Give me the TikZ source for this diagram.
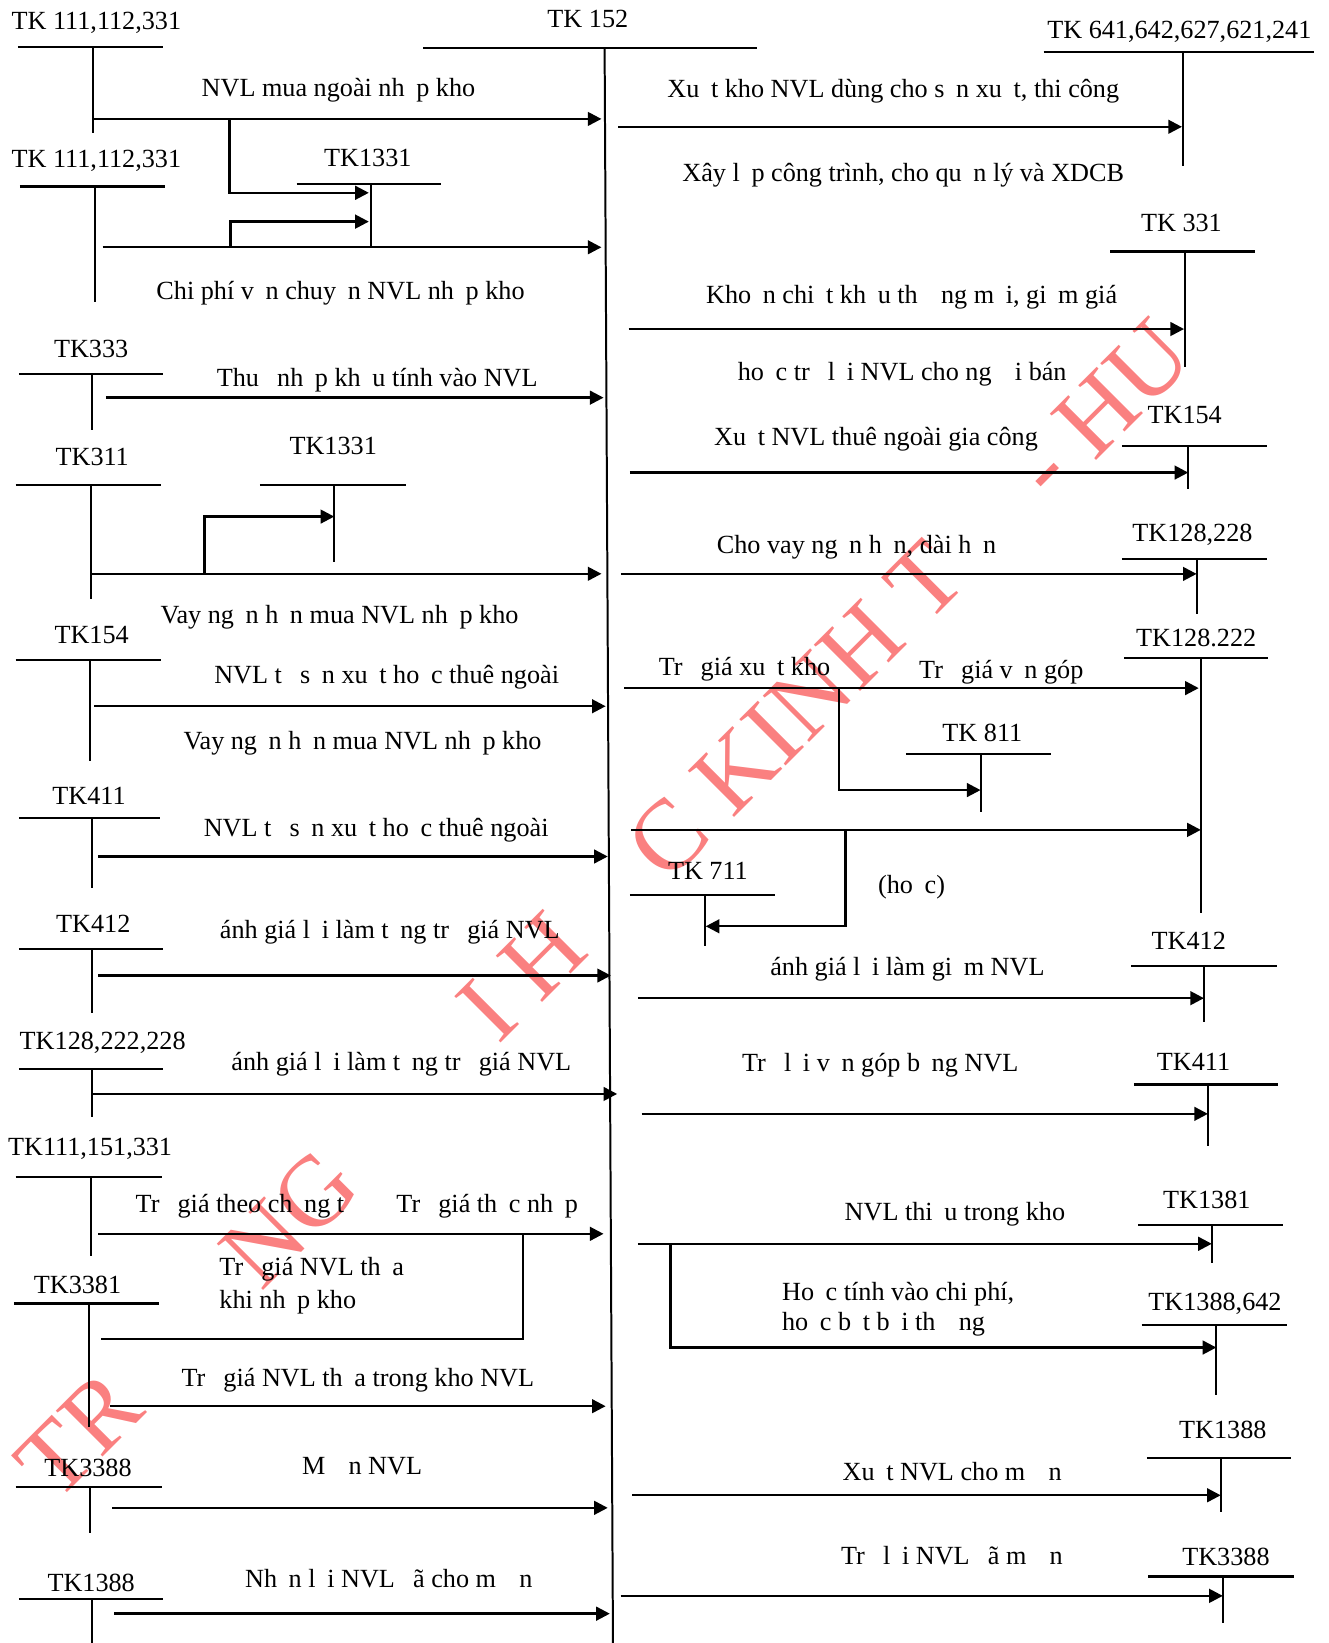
\documentclass[tikz,border=0pt]{standalone}
\usepackage{fontspec}
\setmainfont{Liberation Serif}
\usetikzlibrary{arrows.meta}
\definecolor{wmred}{RGB}{250,128,128}
\newcommand\lbfont{\fontsize{12.5pt}{15pt}\selectfont}
\newcommand\wmfont{\fontsize{47.7pt}{50pt}\selectfont}
% blank space left by a glyph the font could not print
\newcommand\vgp{\hphantom{a}}
\tikzset{
  lb/.style={font=\lbfont, inner sep=0pt, anchor=base, yshift=-4.15pt},
  lbl/.style={lb, anchor=base west},
  wm/.style={font=\wmfont, text=wmred, inner sep=0pt, rotate=45},
  hline/.style={line width=1pt},
  stem/.style={line width=0.95pt},
  arr/.style={line width=1.15pt, -{Triangle[length=6.5pt,width=6.5pt]}},
  conn/.style={line width=1.15pt},
}
% T-account: name, title, title x, title y, bar left, bar right, bar y, stem x, stem bottom
\newcommand\taccount[9]{%
  \node[lb] (#1) at (#3,#4) {#2};
  \coordinate (#1-l) at (#5,#7);
  \coordinate (#1-r) at (#6,#7);
  \coordinate (#1-t) at (#8,#7);
  \coordinate (#1-b) at (#8,#9);
  \draw[hline] (#1-l) -- (#1-r);
  \draw[stem] (#1-t) -- (#1-b);}
% horizontal posting arrow: name, y, x start, x end
\newcommand\flow[4]{%
  \coordinate (#1-s) at (#3,#2);
  \coordinate (#1-e) at (#4,#2);
  \draw[arr] (#1-s) -- (#1-e);}
% elbow connector: name, x0, y0, x1, y1, style
\newcommand\branch[6]{%
  \coordinate (#1-s) at (#2,#3);
  \coordinate (#1-e) at (#4,#5);
  \draw[#6] (#1-s) |- (#1-e);}
\begin{document}
\begin{tikzpicture}[x=0.5pt,y=-0.5pt]
\useasboundingbox (0,0) rectangle (1267.4,1568);

% watermark
\node[wm] (w1) at (75.4,1369.3) {TR};
\node[wm] (w2) at (276.7,1163.2) {NG};
\node[wm] (w3) at (498,932) {I H};
\node[wm] (w4) at (759.5,677.5) {C KINH T};
\node[wm] (w5) at (1051.5,390.3) {- HU};

% central account TK 152
\node[lb] (k152) at (561,18) {TK 152};
\coordinate (k152-l) at (404,45.5);
\coordinate (k152-r) at (722,45.5);
\coordinate (k152-t) at (577,45.5);
\coordinate (k152-b) at (585,1570);
\draw[hline] (k152-l) -- (k152-r);
\draw[stem] (k152-t) -- (k152-b);

% debit side accounts
\taccount{a1}{TK 111,112,331}{92}{20}{17}{156}{45}{89}{127}
\taccount{a2}{TK 111,112,331}{92}{152}{19}{157}{178}{90.5}{288}
\taccount{v1}{TK1331}{351}{151}{283}{421}{176}{354}{236}
\taccount{a3}{TK333}{87}{333}{18}{156}{357}{88}{410}
\taccount{a4}{TK311}{88}{436}{15}{154}{463}{87}{571.5}
\taccount{v2}{TK1331}{318}{425}{248}{387}{463}{319}{536}
\taccount{a5}{TK154}{87.5}{606}{15}{154}{630}{86}{726}
\taccount{a6}{TK411}{85}{759.5}{18}{153}{780.5}{88}{847}
\taccount{a7}{TK412}{89}{882}{18}{156}{905.5}{88}{967}
\taccount{a8}{TK128,222,228}{98}{993}{18}{156}{1020}{88}{1066}
\taccount{a9}{TK111,151,331}{86}{1094}{15}{154.5}{1123}{87}{1198.5}
\taccount{a10}{TK3381}{74}{1226}{13.3}{151.5}{1244}{85}{1361.5}
\taccount{a11}{TK3388}{84}{1401}{15}{154.5}{1419}{86}{1463}
\taccount{a12}{TK1388}{87}{1511}{18}{156}{1526}{88}{1570}

% credit side accounts
\taccount{b1}{TK 641,642,627,621,241}{1125.5}{28}{996}{1253.6}{50}{1129}{158.4}
\taccount{b2}{TK 331}{1127.5}{213}{1059.7}{1198}{240}{1130.6}{350}
\taccount{b3}{TK154}{1130.6}{396}{1070.6}{1209}{426}{1134}{467}
\taccount{b4}{TK128,228}{1138}{508.7}{1070.6}{1209}{533.4}{1142}{586}
\taccount{b5}{TK128.222}{1141.6}{609}{1073}{1210}{628}{1146}{871}
\taccount{c1}{TK 811}{937.5}{699}{864.5}{1003}{720}{935.8}{774.5}
\taccount{c2}{TK 711}{675.6}{831}{601}{740}{854}{672.6}{903}
\taccount{b6}{TK412}{1134.5}{898}{1079.7}{1218.5}{922}{1149}{975}
\taccount{b7}{TK411}{1139}{1013.5}{1082}{1220}{1035}{1152.8}{1093.5}
\taccount{b8}{TK1381}{1151.7}{1145}{1086.3}{1224.6}{1169}{1157}{1205}
\taccount{b9}{TK1388,642}{1159.5}{1242}{1089.6}{1228}{1264.5}{1160.8}{1331}
\taccount{b10}{TK1388}{1167}{1364.5}{1094.4}{1232.5}{1391}{1165}{1443}
\taccount{b11}{TK3388}{1170}{1485.4}{1096}{1234.7}{1504.5}{1167}{1548.6}

% postings into TK 152
\flow{f1}{113.5}{89}{574}
\flow{f2}{236}{98}{574}
\flow{f3}{379.5}{101}{576}
\flow{f4}{547.6}{87}{574}
\flow{f5}{674}{90}{578}
\flow{f6}{817.4}{94}{580}
\flow{f7}{931}{94}{583}
\flow{f8}{1044}{88}{589}
\flow{f9}{1177.5}{94}{576}
\flow{f10}{1342}{105}{578}
\flow{f11}{1439}{107}{580}
\flow{f12}{1540}{109}{582}
\branch{g1}{219}{113.5}{352}{184}{arr}
\branch{g2}{220}{236}{352}{211.5}{arr}
\branch{g4}{195}{547.6}{319}{493}{arr}
\branch{g9}{499}{1177.5}{96}{1278}{conn}

% postings out of TK 152
\flow{h1}{121}{590}{1128}
\flow{h2}{314}{600}{1130}
\flow{h3}{451}{601}{1134}
\flow{h4}{547.7}{592.5}{1142}
\flow{h5}{656.7}{595.6}{1144}
\flow{h5b}{792}{602}{1146}
\branch{k1}{800.6}{656.7}{935.8}{754}{arr}
\branch{k2}{807}{792}{673.5}{884}{arr}
\flow{h6}{952.6}{608.8}{1149}
\flow{h7}{1063}{612.4}{1152.8}
\flow{h8}{1187}{608.8}{1156.5}
\branch{k3}{640}{1187}{1160.8}{1286}{arr}
\flow{h10}{1427}{603.5}{1165}
\flow{h11}{1523}{592.4}{1167}

% labels, debit side
\node[lb] (t1) at (323,84) {NVL mua ngoài nh\vgp p kho};
\node[lb] (t2) at (325,278) {Chi phí v\vgp n chuy\vgp n NVL nh\vgp p kho};
\node[lb] (t3) at (360,361) {Thu\vgp\ nh\vgp p kh\vgp u tính vào NVL};
\node[lb] (t4) at (324,587) {Vay ng\vgp n h\vgp n mua NVL nh\vgp p kho};
\node[lb] (t5) at (369,644) {NVL t\vgp\ s\vgp n xu\vgp t ho\vgp c thuê ngoài};
\node[lb] (t5b) at (346,707) {Vay ng\vgp n h\vgp n mua NVL nh\vgp p kho};
\node[lb] (t6) at (359,790) {NVL t\vgp\ s\vgp n xu\vgp t ho\vgp c thuê ngoài};
\node[lb] (t7) at (372,887) {ánh giá l\vgp i làm t\vgp ng tr\vgp\ giá NVL};
\node[lb] (t8) at (383,1013) {ánh giá l\vgp i làm t\vgp ng tr\vgp\ giá NVL};
\node[lb] (t9a) at (229,1149) {Tr\vgp\ giá theo ch\vgp ng t};
\node[lb] (t9b) at (465,1149) {Tr\vgp\ giá th\vgp c nh\vgp p};
\node[lbl] (t9c) at (209,1209) {Tr\vgp\ giá NVL th\vgp a};
\node[lbl] (t9d) at (209,1240) {khi nh\vgp p kho};
\node[lb] (t10) at (341.5,1315) {Tr\vgp\ giá NVL th\vgp a trong kho NVL};
\node[lb] (t11) at (345.5,1399) {M\vgp\vgp n NVL};
\node[lb] (t12) at (371,1507) {Nh\vgp n l\vgp i NVL \vgp ã cho m\vgp\vgp n};

% labels, credit side
\node[lb] (r1a) at (852.5,84.5) {Xu\vgp t kho NVL dùng cho s\vgp n xu\vgp t, thi công};
\node[lb] (r1b) at (862,165) {Xây l\vgp p công trình, cho qu\vgp n lý và XDCB};
\node[lb] (r2a) at (870,281.5) {Kho\vgp n chi\vgp t kh\vgp u th\vgp\vgp ng m\vgp i, gi\vgp m giá};
\node[lb] (r2b) at (861,354.6) {ho\vgp c tr\vgp\ l\vgp i NVL cho ng\vgp\vgp i bán};
\node[lb] (r3) at (836,416.6) {Xu\vgp t NVL thuê ngoài gia công};
\node[lb] (r4) at (817.4,520) {Cho vay ng\vgp n h\vgp n, dài h\vgp n};
\node[lb] (r5a) at (710.5,636) {Tr\vgp\ giá xu\vgp t kho};
\node[lb] (r5b) at (955.6,639) {Tr\vgp\ giá v\vgp n góp};
\node[lb] (r5c) at (870,844) {(ho\vgp c)};
\node[lb] (r6) at (866,922.6) {ánh giá l\vgp i làm gi\vgp m NVL};
\node[lb] (r7) at (840,1014.6) {Tr\vgp\ l\vgp i v\vgp n góp b\vgp ng NVL};
\node[lb] (r8) at (911.3,1156) {NVL thi\vgp u trong kho};
\node[lbl] (r8b) at (746,1233) {Ho\vgp c tính vào chi phí,};
\node[lbl] (r8c) at (746,1261.5) {ho\vgp c b\vgp t b\vgp i th\vgp\vgp ng};
\node[lb] (r10) at (908.7,1404.6) {Xu\vgp t NVL cho m\vgp\vgp n};
\node[lb] (r11) at (908.5,1484.5) {Tr\vgp\ l\vgp i NVL \vgp ã m\vgp\vgp n};
\end{tikzpicture}
\end{document}
